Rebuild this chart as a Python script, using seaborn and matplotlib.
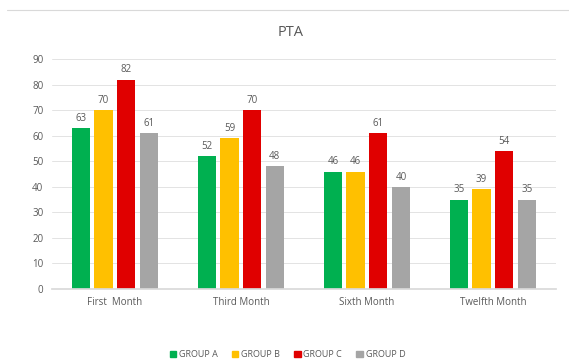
import matplotlib
matplotlib.use("Agg")
import matplotlib.pyplot as plt
import seaborn as sns
import pandas as pd
from matplotlib.lines import Line2D

months = ["First  Month", "Third Month", "Sixth Month", "Twelfth Month"]
groups = ["GROUP A", "GROUP B", "GROUP C", "GROUP D"]
group_a = [63, 52, 46, 35]
group_b = [70, 59, 46, 39]
group_c = [82, 70, 61, 54]
group_d = [61, 48, 40, 35]
colors = ["#00B050", "#FFC000", "#E00000", "#A5A5A5"]

rows = []
for g, vals in zip(groups, [group_a, group_b, group_c, group_d]):
    for m, v in zip(months, vals):
        rows.append({"Month": m, "Group": g, "Value": v})
df = pd.DataFrame(rows)

sns.set_theme(style="white")
plt.rcParams["font.family"] = ["Open Sans", "DejaVu Sans"]

fig = plt.figure(figsize=(5.69, 3.63), dpi=100)
ax = fig.add_axes([0.091, 0.204, 0.886, 0.633])
sns.barplot(data=df, x="Month", y="Value", hue="Group", palette=colors,
            width=0.72, gap=0.2, ax=ax, saturation=1, legend=False,
            errorbar=None, linewidth=0)

ax.set_ylim(0, 90)
ax.set_yticks(range(0, 91, 10))
ax.yaxis.grid(True, color="#E3E3E3", linewidth=0.7)
ax.set_axisbelow(True)
for s in ["top", "right", "left"]:
    ax.spines[s].set_visible(False)
ax.spines["bottom"].set_color("#D9D9D9")
ax.tick_params(axis="both", length=0, labelsize=7, colors="#595959", pad=6)
ax.set_xlabel("")
ax.set_ylabel("")
ax.set_xlim(-0.5, 3.5)

for c in ax.containers:
    ax.bar_label(c, fontsize=7, color="#595959", padding=3)

fig.text(0.51, 0.91, "PTA", ha="center", va="center", fontsize=10.5, color="#595959")

handles = [plt.Rectangle((0, 0), 1, 1, color=c) for c in colors]
fig.legend(handles, groups, loc="center", bbox_to_anchor=(0.505, 0.023), ncol=4,
           frameon=False, fontsize=6.5, labelcolor="#595959", handlelength=0.7,
           handleheight=0.7, columnspacing=1.6, handletextpad=0.3)

fig.add_artist(Line2D([0.012, 1.0], [0.972, 0.972], color="#D9D9D9", linewidth=0.8))

fig.savefig("out.png", dpi=100)
